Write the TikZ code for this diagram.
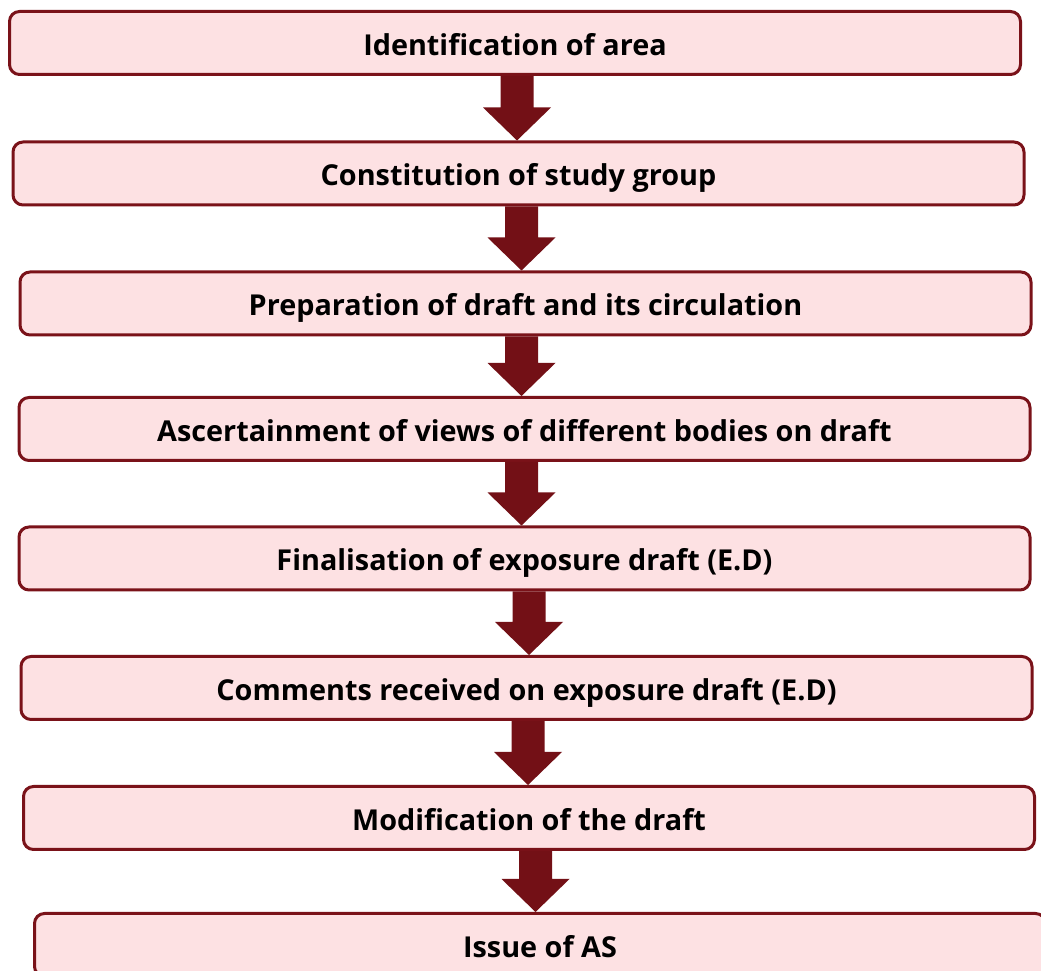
\documentclass[tikz,border=0pt]{standalone}
\usepackage{fontspec}
\setmainfont{Open Sans}
\usetikzlibrary{calc}
\definecolor{boxline}{HTML}{7A1219}
\definecolor{boxfill}{HTML}{FDE1E3}
\definecolor{arrowfill}{HTML}{731016}
\tikzset{stage/.style={draw=boxline, fill=boxfill, line width=3, rounded corners=10,
    minimum width=1011, minimum height=63, inner sep=0, text height=26, text depth=1,
    font=\fontsize{28.8}{32}\selectfont\bfseries}}
% block arrow from the bottom of one box to the top of the next, at x = #3
\def\flowarrow(#1)(#2)(#3){\fill[arrowfill] let \p1=(#1.south), \p2=(#2.north) in
    (#3-16.5,\y1) -- (#3+16.5,\y1) -- (#3+16.5,\y2+33) -- (#3+34,\y2+33) -- (#3,\y2)
    -- (#3-34,\y2+33) -- (#3-16.5,\y2+33) -- cycle;}

\begin{document}
\begin{tikzpicture}[x=1pt, y=1pt]
		%%%%% START %%%%%
		\useasboundingbox (0, 0) rectangle (1041, 971);
		\clip (0, 0) rectangle (1041, 971);
		
		\node[stage] (area) at (515, 928) {Identification of area};
		\node[stage] (group) at (518.5, 797.5) {Constitution of study group};
		\node[stage] (draft) at (525.5, 667.5) {Preparation of draft and its circulation};
		\node[stage] (views) at (524.5, 542) {Ascertainment of views of different bodies on draft};
		\node[stage] (exposure) at (524.5, 412.5) {Finalisation of exposure draft (E.D)};
		\node[stage] (comments) at (526.5, 283) {Comments received on exposure draft (E.D)};
		\node[stage] (modify) at (529, 153) {Modification of the draft};
		\node[stage] (issue) at (540, 26) {Issue of AS};
		
		\flowarrow(area)(group)(517)
		\flowarrow(group)(draft)(521.5)
		\flowarrow(draft)(views)(521.5)
		\flowarrow(views)(exposure)(521.5)
		\flowarrow(exposure)(comments)(529)
		\flowarrow(comments)(modify)(528)
		\flowarrow(modify)(issue)(535.5)
		%%%%% END %%%%%
\end{tikzpicture}
\end{document}
